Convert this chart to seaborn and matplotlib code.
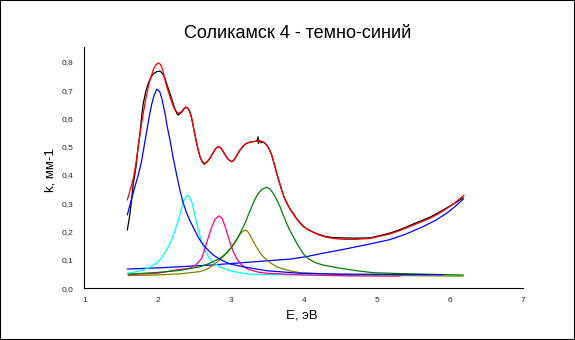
import numpy as np
import pandas as pd
import matplotlib
matplotlib.use("Agg")
import matplotlib.pyplot as plt
import seaborn as sns
from matplotlib.ticker import MultipleLocator, FuncFormatter
from matplotlib.patches import Rectangle

# ---- data ----
black_x = [1.588, 1.610, 1.625, 1.650, 1.670, 1.690, 1.707, 1.735, 1.761, 1.785, 1.806, 1.840, 1.875,
           1.910, 1.943, 1.990, 2.035, 2.070, 2.103, 2.135, 2.171, 2.205, 2.240, 2.270, 2.285,
           2.331, 2.365, 2.390, 2.420, 2.445, 2.468, 2.490, 2.513, 2.536, 2.558, 2.581, 2.610, 2.640,
           2.680, 2.718, 2.750, 2.786, 2.815, 2.841, 2.870, 2.900, 2.935, 2.968, 3.014, 3.040, 3.060,
           3.095, 3.128, 3.170, 3.219, 3.265, 3.310, 3.360, 3.375, 3.380, 3.390, 3.420, 3.450, 3.493,
           3.530, 3.561, 3.595, 3.630, 3.665, 3.698, 3.730, 3.780, 3.830, 3.857, 3.902, 3.948, 3.993,
           4.040, 4.085, 4.150, 4.221, 4.300, 4.403, 4.540, 4.723, 4.905, 5.041, 5.178, 5.269, 5.380,
           5.496, 5.610, 5.724, 5.840, 5.953, 6.040, 6.111, 6.180]
black_y = [0.206, 0.240, 0.265, 0.320, 0.371, 0.400, 0.430, 0.500, 0.547, 0.610, 0.653, 0.695, 0.724,
           0.745, 0.757, 0.765, 0.767, 0.758, 0.741, 0.715, 0.688, 0.660, 0.632, 0.615, 0.612,
           0.622, 0.634, 0.640, 0.635, 0.622, 0.600, 0.571, 0.541, 0.512, 0.487, 0.465, 0.446, 0.438,
           0.447, 0.459, 0.474, 0.490, 0.498, 0.500, 0.494, 0.482, 0.467, 0.455, 0.447, 0.451, 0.459,
           0.474, 0.488, 0.502, 0.512, 0.516, 0.518, 0.520, 0.535, 0.512, 0.522, 0.514, 0.516, 0.506,
           0.490, 0.471, 0.440, 0.406, 0.375, 0.347, 0.322, 0.295, 0.272, 0.265, 0.246, 0.232, 0.219,
           0.210, 0.204, 0.196, 0.189, 0.183, 0.179, 0.178, 0.177, 0.178, 0.186, 0.195, 0.203, 0.214,
           0.227, 0.239, 0.251, 0.267, 0.284, 0.297, 0.308, 0.320]

red_x = [1.588, 1.630, 1.670, 1.705, 1.738, 1.770, 1.806, 1.840, 1.875, 1.910, 1.943, 1.975, 2.011,
         2.035, 2.058, 2.080, 2.103, 2.135, 2.171, 2.205, 2.240, 2.285, 2.331, 2.365, 2.390, 2.420,
         2.445, 2.468, 2.490, 2.513, 2.536, 2.558, 2.581, 2.610, 2.640, 2.680, 2.718, 2.750, 2.786,
         2.815, 2.841, 2.870, 2.900, 2.935, 2.968, 3.014, 3.040, 3.060, 3.095, 3.128, 3.170, 3.219,
         3.265, 3.310, 3.360, 3.401, 3.450, 3.493, 3.530, 3.561, 3.595, 3.630, 3.665, 3.698, 3.730,
         3.780, 3.830, 3.857, 3.902, 3.948, 3.993, 4.040, 4.085, 4.150, 4.221, 4.300, 4.403, 4.540,
         4.723, 4.905, 5.041, 5.178, 5.269, 5.380, 5.496, 5.610, 5.724, 5.840, 5.953, 6.040, 6.111, 6.190]
red_y = [0.312, 0.350, 0.388, 0.440, 0.500, 0.560, 0.618, 0.668, 0.712, 0.746, 0.771, 0.788, 0.796,
         0.792, 0.782, 0.762, 0.735, 0.705, 0.676, 0.650, 0.629, 0.618, 0.624, 0.635, 0.639, 0.634,
         0.622, 0.600, 0.571, 0.541, 0.512, 0.487, 0.465, 0.448, 0.441, 0.447, 0.459, 0.474, 0.490,
         0.498, 0.500, 0.494, 0.482, 0.467, 0.455, 0.447, 0.451, 0.459, 0.474, 0.488, 0.502, 0.512,
         0.516, 0.518, 0.520, 0.521, 0.516, 0.506, 0.490, 0.471, 0.440, 0.406, 0.375, 0.347, 0.322,
         0.295, 0.272, 0.262, 0.245, 0.230, 0.218, 0.210, 0.203, 0.195, 0.187, 0.181, 0.176, 0.173,
         0.173, 0.176, 0.184, 0.192, 0.200, 0.211, 0.223, 0.235, 0.247, 0.263, 0.282, 0.297, 0.312, 0.329]

peak1_x = [1.588, 1.634, 1.693, 1.738, 1.780, 1.820, 1.853, 1.890, 1.921, 1.955, 1.990, 2.030, 2.058,
           2.080, 2.103, 2.130, 2.171, 2.215, 2.263, 2.308, 2.353, 2.400, 2.445, 2.490, 2.558, 2.620,
           2.673, 2.760, 2.855, 2.990, 3.173, 3.493, 3.948, 4.500, 5.300, 5.900]
peak1_y = [0.259, 0.305, 0.360, 0.400, 0.445, 0.505, 0.555, 0.610, 0.650, 0.682, 0.703, 0.695, 0.672,
           0.645, 0.618, 0.575, 0.524, 0.460, 0.400, 0.345, 0.300, 0.265, 0.238, 0.215, 0.180, 0.155,
           0.140, 0.118, 0.102, 0.086, 0.076, 0.062, 0.053, 0.050, 0.049, 0.048]

peak2_x = [1.588, 1.700, 1.806, 1.900, 1.980, 2.040, 2.100, 2.150, 2.194, 2.240, 2.285, 2.320, 2.360,
           2.400, 2.430, 2.468, 2.500, 2.527, 2.555, 2.581, 2.620, 2.660, 2.718, 2.790, 2.855, 2.950,
           3.036, 3.150, 3.265, 3.600, 4.000, 4.600, 5.300]
peak2_y = [0.053, 0.058, 0.065, 0.075, 0.088, 0.102, 0.125, 0.148, 0.171, 0.205, 0.241, 0.275, 0.310,
           0.327, 0.326, 0.305, 0.272, 0.241, 0.210, 0.185, 0.152, 0.128, 0.103, 0.086, 0.076, 0.066,
           0.059, 0.054, 0.050, 0.048, 0.047, 0.045, 0.045]

peak3_x = [1.600, 1.738, 2.000, 2.263, 2.445, 2.520, 2.570, 2.604, 2.649, 2.690, 2.740, 2.786, 2.841,
           2.880, 2.920, 2.968, 3.000, 3.036, 3.080, 3.128, 3.200, 3.265, 3.380, 3.493, 4.000, 4.600, 5.320]
peak3_y = [0.048, 0.050, 0.053, 0.065, 0.071, 0.082, 0.095, 0.106, 0.140, 0.175, 0.215, 0.243, 0.256,
           0.248, 0.222, 0.182, 0.155, 0.130, 0.106, 0.088, 0.073, 0.065, 0.057, 0.053, 0.047, 0.044, 0.043]

peak4_x = [1.600, 2.000, 2.300, 2.581, 2.680, 2.763, 2.840, 2.900, 2.960, 3.014, 3.060, 3.105, 3.150,
           3.190, 3.230, 3.260, 3.288, 3.330, 3.378, 3.430, 3.493, 3.560, 3.630, 3.720, 3.810, 3.948,
           4.500, 5.300, 6.180]
peak4_y = [0.045, 0.047, 0.051, 0.059, 0.068, 0.082, 0.098, 0.112, 0.130, 0.147, 0.165, 0.182, 0.198,
           0.205, 0.202, 0.190, 0.176, 0.155, 0.135, 0.116, 0.100, 0.087, 0.076, 0.068, 0.062, 0.055,
           0.049, 0.045, 0.043]

peak5_x = [1.600, 2.000, 2.300, 2.581, 2.700, 2.809, 2.880, 2.946, 3.010, 3.083, 3.140, 3.196, 3.240,
           3.288, 3.330, 3.378, 3.430, 3.493, 3.540, 3.583, 3.630, 3.675, 3.720, 3.766, 3.810, 3.857,
           3.902, 3.948, 3.993, 4.060, 4.130, 4.200, 4.266, 4.495, 4.723, 4.950, 5.178, 5.600, 6.180]
peak5_y = [0.050, 0.056, 0.063, 0.076, 0.087, 0.100, 0.111, 0.124, 0.143, 0.171, 0.200, 0.229, 0.258,
           0.288, 0.313, 0.335, 0.350, 0.357, 0.350, 0.335, 0.313, 0.288, 0.258, 0.229, 0.204, 0.182,
           0.160, 0.141, 0.122, 0.105, 0.094, 0.087, 0.082, 0.071, 0.062, 0.055, 0.053, 0.050, 0.047]

base_x = [1.588, 2.000, 2.300, 2.581, 2.718, 3.036, 3.493, 3.811, 4.039, 4.266, 4.495, 4.723, 4.950,
          5.178, 5.380, 5.600, 5.800, 5.953, 6.050, 6.180]
base_y = [0.068, 0.072, 0.076, 0.080, 0.082, 0.088, 0.097, 0.103, 0.112, 0.124, 0.135, 0.147, 0.159,
          0.172, 0.190, 0.214, 0.240, 0.265, 0.285, 0.315]

x_ticks = [1, 2, 3, 4, 5, 6, 7]
y_ticks = [0.0, 0.1, 0.2, 0.3, 0.4, 0.5, 0.6, 0.7, 0.8]

title = "Соликамск 4 - темно-синий"
xlabel = "E, эВ"
ylabel = "k, мм-1"

series = [
    ("exp", black_x, black_y, "#000000"),
    ("base", base_x, base_y, "#0000FF"),
    ("p2", peak2_x, peak2_y, "#00FFFF"),
    ("p3", peak3_x, peak3_y, "#FF0080"),
    ("p4", peak4_x, peak4_y, "#808000"),
    ("p5", peak5_x, peak5_y, "#008000"),
    ("p1", peak1_x, peak1_y, "#0000FF"),
    ("fit", red_x, red_y, "#FF0000"),
]

sns.set_style("white")
plt.rcParams["font.family"] = ["Liberation Sans", "DejaVu Sans"]

W, H = 575, 340
fig = plt.figure(figsize=(W / 100, H / 100), dpi=100)
ax = fig.add_axes([84.3 / W, 1 - 288.3 / H, (523.3 - 84.3) / W, (288.3 - 47.3) / H])

for name, xs, ys, col in series:
    df = pd.DataFrame({"x": xs, "y": ys})
    sns.lineplot(data=df, x="x", y="y", ax=ax, color=col, lw=0.9, sort=False,
                 estimator=None, legend=False)

ax.set_xlim(1, 7)
ax.set_ylim(0, 0.851)
ax.set_xticks(x_ticks)
ax.set_yticks(y_ticks)
ax.xaxis.set_minor_locator(MultipleLocator(0.5))
ax.yaxis.set_minor_locator(MultipleLocator(0.05))
ax.xaxis.set_major_formatter(FuncFormatter(lambda v, p: f"{v:g}"))
ax.yaxis.set_major_formatter(FuncFormatter(lambda v, p: f"{v:.1f}".replace(".", ",")))
ax.tick_params(axis="both", which="major", direction="out", length=3, width=0.8,
               labelsize=6, color="black", pad=2)
ax.tick_params(axis="both", which="minor", direction="out", length=1.6, width=0.8, color="black")
ax.tick_params(axis="y", which="major", pad=5)
ax.tick_params(axis="x", which="major", pad=3)
for s in ["top", "right"]:
    ax.spines[s].set_visible(False)
for s in ["left", "bottom"]:
    ax.spines[s].set_color("black")
    ax.spines[s].set_linewidth(0.8)
ax.set_xlabel("")
ax.set_ylabel("")
ax.grid(False)

fig.text(298 / W, 1 - 33 / H, title, ha="center", va="center", fontsize=13, color="black")
fig.text(302 / W, 1 - 316 / H, xlabel, ha="center", va="center", fontsize=9.5, color="black")
fig.text(51 / W, 1 - 170 / H, ylabel, ha="center", va="center", fontsize=9.5, color="black",
         rotation=90)

fig.patches.append(Rectangle((0, 0), 1, 1, transform=fig.transFigure, fill=False,
                             edgecolor="black", lw=1.5))

fig.savefig("out.png", dpi=100)
